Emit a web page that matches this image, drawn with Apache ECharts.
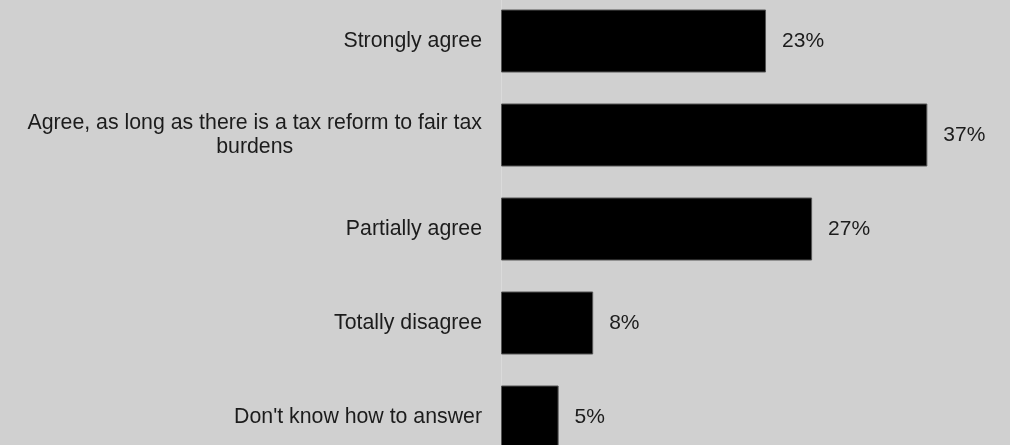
<!DOCTYPE html>
<html>
<head>
<meta charset="utf-8">
<script src="https://cdn.jsdelivr.net/npm/echarts@6/dist/echarts.min.js"></script>
<style>
  html, body { margin: 0; padding: 0; background: #d0d0d0; overflow: hidden; width: 1010px; height: 445px; }
  #chart { position: absolute; left: 0; top: -6px; width: 1010px; height: 470px; }
</style>
</head>
<body>
<div id="chart"></div>
<script>
// Survey answers and their shares (%)
const categories = [
  'Strongly agree',
  'Agree, as long as there is a tax reform to fair tax\nburdens',
  'Partially agree',
  'Totally disagree',
  "Don't know how to answer"
];
const shares = [23, 37, 27, 8, 5];

const textColor = '#1c1c1c';
const fontFamily = '"Liberation Sans", Arial, sans-serif';

const chart = echarts.init(document.getElementById('chart'));
chart.setOption({
  backgroundColor: '#d0d0d0',
  animation: false,
  grid: { left: 501, right: 2, top: 0, bottom: 0, containLabel: false },
  xAxis: {
    type: 'value',
    min: 0,
    max: 44,
    show: false,
    splitLine: { show: false }
  },
  yAxis: {
    type: 'category',
    data: categories,
    inverse: true,
    axisLine: { show: true, lineStyle: { color: '#dadada', width: 1 } },
    axisTick: { show: false },
    axisLabel: {
      margin: 19,
      formatter: v => v.split('\n').map(s => '{c|' + s + '}').join('\n'),
      rich: {
        c: {
          align: 'center',
          fontSize: 21.3,
          lineHeight: 24,
          color: textColor,
          fontFamily: fontFamily
        }
      }
    }
  },
  series: [{
    type: 'bar',
    data: shares,
    barWidth: 63,
    itemStyle: { color: '#000000', borderColor: '#555555', borderWidth: 1 },
    label: {
      show: true,
      position: 'right',
      distance: 16,
      formatter: p => p.value + '%',
      fontSize: 21,
      color: textColor,
      fontFamily: fontFamily
    }
  }]
});
</script>
</body>
</html>
